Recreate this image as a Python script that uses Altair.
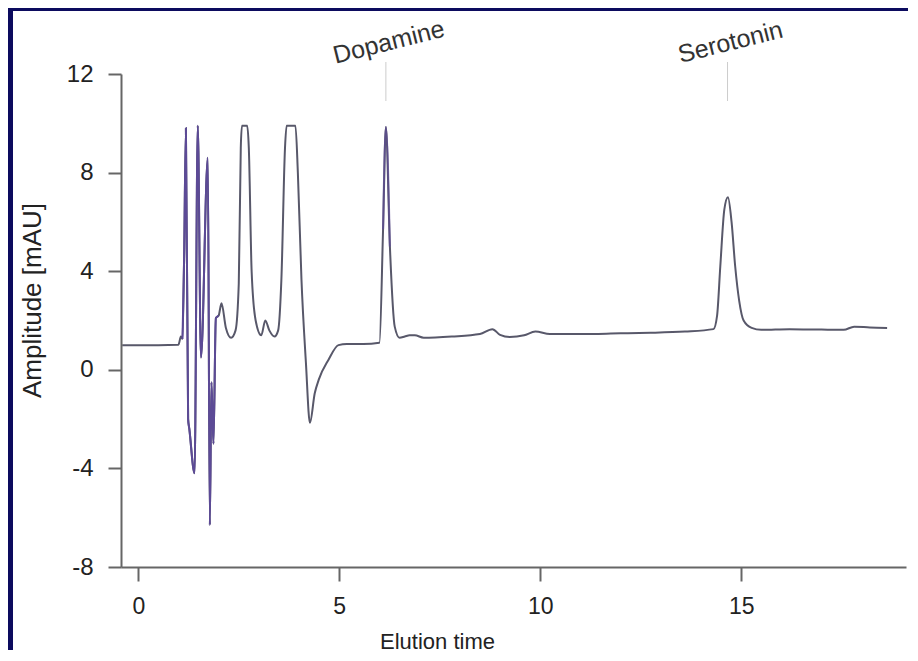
import altair as alt
import pandas as pd

# ---- data ----
time_min = [-0.40, 0.50, 1.00, 1.06, 1.10, 1.14, 1.185, 1.24, 1.27, 1.40,
            1.48, 1.56, 1.73, 1.78, 1.82, 1.87, 1.93, 2.00, 2.07, 2.18,
            2.31, 2.42, 2.50, 2.55, 2.58, 2.71, 2.75, 2.82, 2.92, 3.06,
            3.16, 3.26, 3.39, 3.48, 3.56, 3.65, 3.69, 3.91, 3.97, 4.06,
            4.17, 4.27, 4.39, 4.49, 4.73, 4.98, 5.19, 5.60, 6.00, 6.09,
            6.16, 6.26, 6.38, 6.50, 6.63, 6.75, 6.88, 7.10, 7.80, 8.50,
            8.81, 9.00, 9.24, 9.60, 9.88, 10.24, 11.00, 12.00, 12.75, 13.60,
            14.31, 14.40, 14.48, 14.58, 14.67, 14.76, 14.85, 14.95, 15.06, 15.26,
            15.50, 16.20, 17.00, 17.55, 17.81, 18.20, 18.63]
amplitude = [1.00, 1.00, 1.02, 1.35, 1.25, 4.5, 9.8, -2.0, -2.4, -4.2,
             9.9, 0.5, 8.6, -6.3, -0.5, -3.0, 2.1, 2.2, 2.7, 1.7,
             1.3, 1.6, 3.5, 9.0, 9.9, 9.9, 9.0, 4.0, 2.0, 1.4,
             2.0, 1.6, 1.35, 1.6, 3.65, 9.0, 9.9, 9.9, 8.0, 3.65,
             0.3, -2.15, -0.95, -0.4, 0.4, 1.0, 1.05, 1.05, 1.1, 5.7,
             9.85, 5.0, 1.75, 1.3, 1.35, 1.4, 1.4, 1.3, 1.35, 1.45,
             1.65, 1.42, 1.33, 1.4, 1.55, 1.45, 1.45, 1.48, 1.50, 1.55,
             1.65, 2.2, 4.2, 6.5, 7.0, 6.0, 4.2, 2.8, 2.0, 1.7,
             1.62, 1.65, 1.63, 1.62, 1.75, 1.72, 1.70]

peak_names = ["Dopamine", "Serotonin"]
peak_times = [6.16, 14.66]

x_ticks = [0, 5, 10, 15]
y_ticks = [-8, -4, 0, 4, 8, 12]

df = pd.DataFrame({"t": time_min, "a": amplitude})
peaks = pd.DataFrame({"name": peak_names, "t": peak_times})

W, H = 785, 493
FONT = "Liberation Sans"
AXIS_GRAY = "#666666"
TRACE = "#58586a"
PURPLE = "#5c4a96"

xs = alt.Scale(domain=[-0.43, 19.1], nice=False, zero=False)
ys = alt.Scale(domain=[-8, 12], nice=False, zero=False)

hyphen_labels = "'' + datum.value"

x_enc = alt.X(
    "t:Q", scale=xs,
    axis=alt.Axis(values=x_ticks, title="Elution time", tickSize=14,
                  labelPadding=14, labelFlush=False, labelFontSize=23,
                  labelExpr=hyphen_labels,
                  titleX=316, titleY=74,
                  titleBaseline="middle", titleAlign="center", zindex=1),
)
y_enc = alt.Y(
    "a:Q", scale=ys,
    axis=alt.Axis(values=y_ticks, title="Amplitude [mAU]", tickSize=13,
                  labelPadding=15, labelFlush=False, labelFontSize=24,
                  labelExpr=hyphen_labels,
                  titleX=-89, titleY=226, titleFontSize=26,
                  titleAngle=270, titleBaseline="middle", titleAlign="center",
                  zindex=1),
)

trace = alt.Chart(df).mark_line(
    color=TRACE, strokeWidth=2, interpolate="monotone"
).encode(x=x_enc, y=y_enc)

spikes = (
    alt.Chart(df)
    .transform_filter((alt.datum.t >= 1.1) & (alt.datum.t <= 2.0))
    .mark_line(color=PURPLE, strokeWidth=2, interpolate="monotone")
    .encode(x="t:Q", y="a:Q")
)
dopa = (
    alt.Chart(df)
    .transform_filter((alt.datum.t >= 6.05) & (alt.datum.t <= 6.3))
    .mark_line(color=PURPLE, strokeWidth=2, interpolate="monotone", opacity=0.7)
    .encode(x="t:Q", y="a:Q")
)

markers = alt.Chart(peaks).mark_rule(color="#cccccc", strokeWidth=1).encode(
    x="t:Q", y=alt.value(-12), y2=alt.value(27)
)

labels = alt.Chart(peaks).mark_text(
    angle=346, fontSize=25, font=FONT, color="#333333", dx=3
).encode(x="t:Q", y=alt.value(-31), text="name:N")

frame = alt.Data(values=[{}])
navy_left = alt.Chart(frame).mark_rect(color="#0c0b5e").encode(
    x=alt.value(-113), x2=alt.value(-108), y=alt.value(-66), y2=alt.value(576)
)
navy_top = alt.Chart(frame).mark_rect(color="#0c0b5e").encode(
    x=alt.value(-113), x2=alt.value(787), y=alt.value(-66), y2=alt.value(-63)
)

chart = (
    alt.layer(navy_left, navy_top, trace, spikes, dopa, markers, labels)
    .properties(width=W, height=H, padding=0, background="white")
    .configure_view(stroke=None)
    .configure_axis(
        grid=False, domainColor=AXIS_GRAY, domainWidth=2, tickColor=AXIS_GRAY,
        tickWidth=2, labelFont=FONT, labelColor="#222222",
        titleFont=FONT, titleFontSize=22, titleFontWeight="normal",
        titleColor="#222222",
    )
)

chart.save("out.html", embed_options={"renderer": "svg", "actions": False})
